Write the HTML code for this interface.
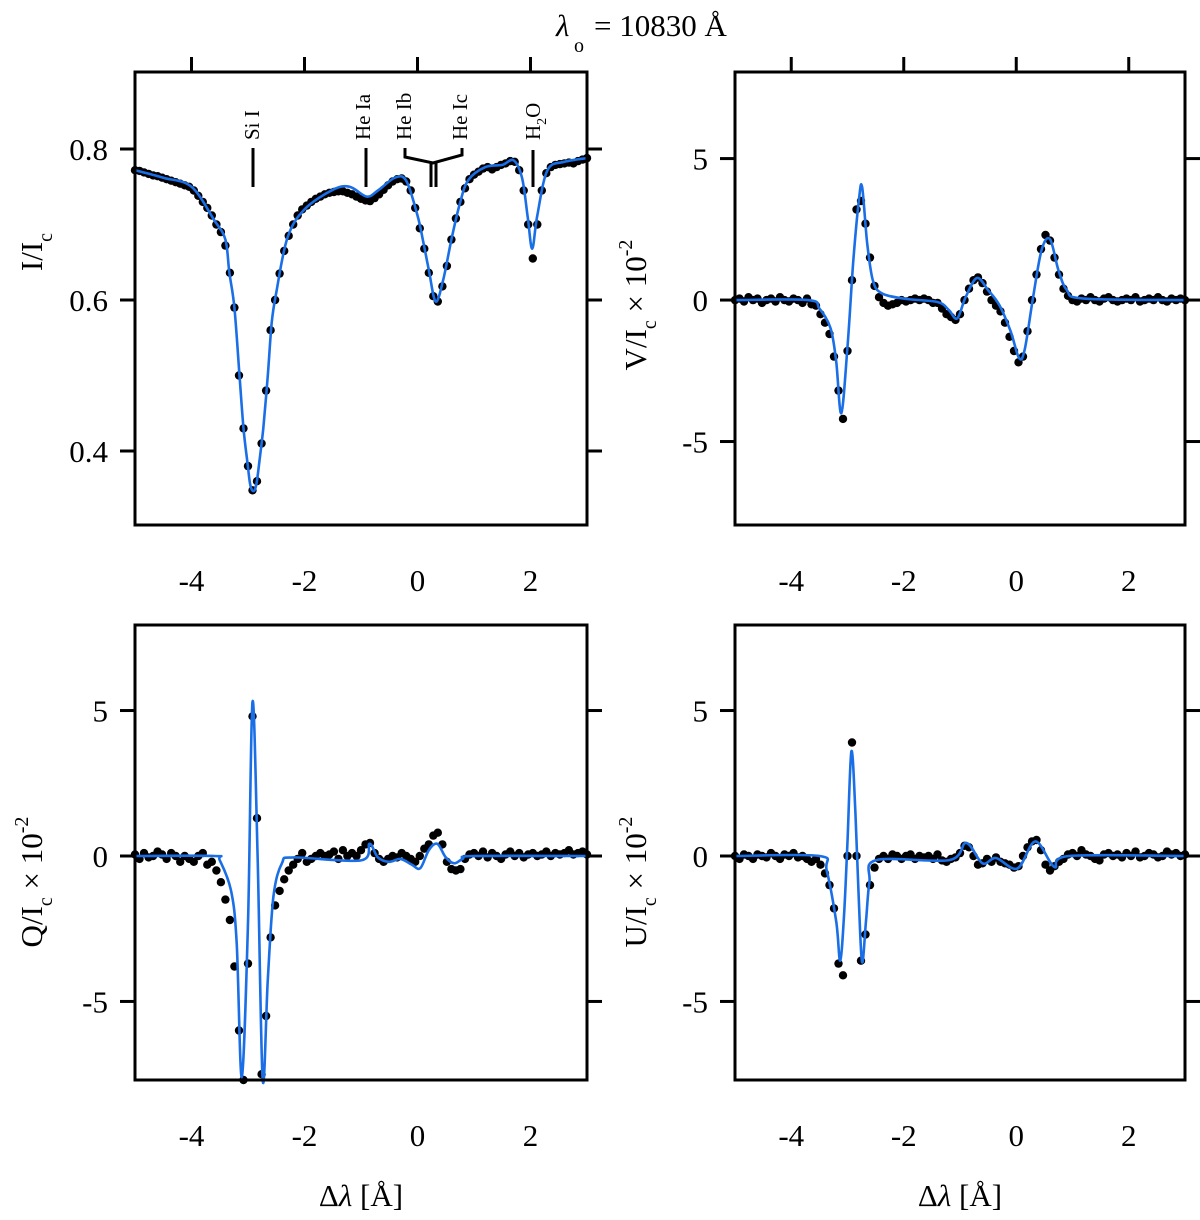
<!DOCTYPE html>
<html><head><meta charset="utf-8"><style>
html,body{margin:0;padding:0;background:#fff;}
svg{display:block;font-family:"Liberation Serif",serif;}
</style></head><body>
<svg id="fig" width="1200" height="1220" viewBox="0 0 1200 1220" xmlns="http://www.w3.org/2000/svg">
<text x="556" y="36" font-size="31" font-style="italic">λ</text>
<text x="574" y="52" font-size="20">o</text>
<text x="594" y="36" font-size="31">= 10830 Å</text>
</svg>
<script>
// ---- data ----
const obsStart = -5, obsStep = 0.08;
const xTicks = [-4,-2,0,2];
const xTickLabels = ["-4","-2","0","2"];
const iTicks = [0.8,0.6,0.4];
const iTickLabels = ["0.8","0.6","0.4"];
const pTicks = [5,0,-5];
const pTickLabels = ["5","0","-5"];

const iFitLam = [-5,-4.5,-4,-3.6,-3.4,-3.33,-3.24,-3.15,-3.08,-3.01,-2.96,-2.90,-2.85,-2.80,-2.73,-2.65,-2.58,-2.50,-2.3,-2.0,-1.5,-1.2,-0.9,-0.7,-0.4,-0.2,0,0.1,0.2,0.32,0.45,0.6,0.75,0.9,1.2,1.5,1.7,1.85,1.95,2.03,2.12,2.3,2.6,3];
const iFitVal = [.772,.762,.75,.706,.68,.636,.59,.50,.43,.385,.355,.347,.357,.385,.43,.50,.57,.61,.683,.72,.746,.75,.737,.745,.762,.758,.712,.678,.64,.598,.625,.68,.728,.759,.776,.779,.785,.762,.71,.668,.712,.772,.783,.788];
const iObs = [.772,.771,.769,.767,.765,.764,.762,.760,.758,.756,.754,.752,.750,.745,.738,.730,.722,.712,.700,.690,.672,.636,.59,.50,.43,.38,.348,.36,.41,.48,.56,.60,.635,.665,.685,.700,.712,.720,.725,.730,.734,.737,.740,.742,.743,.744,.744,.742,.740,.737,.734,.732,.731,.735,.740,.746,.752,.757,.760,.761,.757,.745,.722,.695,.668,.636,.605,.598,.618,.645,.680,.708,.730,.748,.760,.766,.770,.774,.776,.773,.776,.779,.781,.784,.783,.772,.745,.70,.655,.70,.745,.768,.776,.779,.780,.781,.782,.781,.784,.786,.788];

const vFitLam = [-5,-3.7,-3.5,-3.3,-3.2,-3.11,-3.0,-2.9,-2.8,-2.74,-2.65,-2.55,-2.4,-2.0,-1.4,-1.2,-1.05,-0.9,-0.7,-0.5,-0.3,-0.1,0.05,0.15,0.3,0.45,0.6,0.75,0.9,1.2,3];
const vFitVal = [0,0,-0.3,-1.0,-2.2,-4.0,-1.65,1.3,3.5,4.0,2.0,0.7,0.25,0.05,-0.07,-0.35,-0.65,0.1,0.78,0.35,-0.18,-1.1,-2.05,-1.75,0.1,1.77,2.15,1.06,0.35,0.05,0];
const vObs = [0.0,0.05,-0.05,0.1,0.0,0.05,-0.1,0.0,0.05,-0.05,0.1,0.0,-0.05,0.05,0.0,-0.1,0.05,-0.15,-0.2,-0.5,-0.8,-1.2,-2.0,-3.2,-4.2,-1.8,0.7,3.2,3.5,2.7,1.5,0.5,0.1,-0.1,-0.2,-0.15,-0.1,0.0,-0.05,0.0,0.05,0.0,0.05,0.0,-0.1,-0.1,-0.3,-0.5,-0.6,-0.7,-0.5,0.0,0.4,0.7,0.8,0.6,0.3,0.0,-0.2,-0.4,-0.8,-1.3,-1.8,-2.2,-2.0,-1.1,0.0,0.9,1.8,2.3,2.1,1.5,0.9,0.4,0.15,0.0,-0.05,0.05,0.0,0.1,0.0,-0.05,0.05,0.1,0.0,-0.05,0.0,0.05,0.0,0.1,-0.05,0.0,0.05,0.0,0.1,0.0,-0.05,0.05,0.0,0.05,0.0];

const qFitLam = [-5,-3.6,-3.5,-3.3,-3.2,-3.11,-3.0,-2.92,-2.83,-2.74,-2.65,-2.55,-2.4,-2.2,-1.0,-0.85,-0.7,-0.5,-0.3,-0.1,0.05,0.2,0.35,0.5,0.65,0.8,1.0,3];
const qFitVal = [0,0,-0.15,-1.2,-3.0,-7.6,-2.3,5.3,0,-7.7,-4.25,-1.4,-0.25,-0.05,-0.15,0.42,-0.05,-0.2,-0.1,-0.3,-0.42,0.2,0.42,-0.05,-0.25,-0.1,0,0];
const qObs = [0.05,-0.1,0.1,-0.05,0.0,0.15,0.05,-0.1,0.1,0.0,-0.2,0.0,-0.1,-0.2,0.0,0.1,-0.3,-0.2,-0.5,-0.9,-1.5,-2.2,-3.8,-6.0,-7.7,-3.7,4.8,1.3,-7.5,-5.5,-2.8,-1.7,-1.2,-0.8,-0.5,-0.3,-0.1,0.1,-0.2,-0.1,0.0,0.1,0.0,0.05,0.15,-0.1,0.2,0.0,0.1,0.0,0.2,0.4,0.45,0.1,-0.1,-0.2,-0.1,0.0,-0.05,0.1,0.0,-0.1,-0.2,0.0,0.25,0.4,0.7,0.8,0.4,-0.2,-0.45,-0.5,-0.45,-0.1,0.05,0.1,0.0,0.15,-0.05,0.1,0.0,-0.1,0.05,0.15,0.0,0.1,-0.05,0.05,0.1,0.0,0.05,0.15,0.0,0.1,0.05,0.1,0.2,0.05,0.1,0.15,0.05];

const uFitLam = [-5,-3.5,-3.37,-3.2,-3.13,-3.06,-3.0,-2.93,-2.86,-2.8,-2.74,-2.67,-2.61,-2.49,-1.19,-0.89,-0.6,-0.36,0.02,0.34,0.68,0.94,3];
const uFitVal = [0,0,-0.5,-2.27,-3.6,-2.0,0.5,3.6,1.5,-1.5,-3.65,-2.2,-0.9,-0.14,-0.14,0.45,-0.25,-0.07,-0.43,0.5,-0.38,0,0];
const uObs = [0.0,-0.1,0.05,0.0,-0.1,0.05,0.0,-0.05,0.1,0.0,-0.1,0.05,0.0,0.1,-0.05,0.0,-0.1,-0.2,-0.1,-0.3,-0.6,-1.0,-1.8,-3.7,-4.1,0.0,3.9,0.0,-3.6,-2.7,-1.0,-0.4,-0.1,0.0,-0.1,0.05,0.0,-0.1,0.0,0.05,-0.1,0.0,-0.05,0.0,-0.1,0.05,-0.15,-0.2,-0.1,-0.05,0.1,0.35,0.3,0.0,-0.3,-0.25,-0.1,-0.2,-0.05,-0.2,-0.25,-0.3,-0.4,-0.35,0.0,0.3,0.5,0.55,0.2,-0.3,-0.5,-0.35,-0.2,-0.1,0.05,0.1,0.0,0.2,0.05,0.0,-0.1,-0.15,0.05,0.1,0.0,0.05,-0.05,0.1,0.0,0.15,-0.05,0.0,0.1,0.05,-0.05,0.0,0.15,0.05,0.1,0.0,0.05];

// ---- drawing ----
const NS = "http://www.w3.org/2000/svg";
const svg = document.getElementById('fig');
function mk(tag, attrs, parent){const e=document.createElementNS(NS,tag);for(const k in attrs)e.setAttribute(k,attrs[k]);(parent||svg).appendChild(e);return e;}

function panel(o){
  const g = mk('g',{});
  
  
  const sx = v => o.x0 + (v - (-5)) / 8 * (o.x1 - o.x0);
  const sy = v => o.y1 - (v - o.ymin) / (o.ymax - o.ymin) * (o.y1 - o.y0);
  const dg = mk('g',{fill:'#000'},g);
  
  
  o.obs.forEach((v,k)=>{
    const c = mk('circle',{cx:sx(obsStart+obsStep*k).toFixed(1),cy:sy(v).toFixed(1),r:4.2},dg);
    
    
  });
  const P = o.fitLam.map((l,i)=>[sx(l),sy(o.fitVal[i])]);
  let d = 'M'+P[0][0].toFixed(1)+','+P[0][1].toFixed(1);
  for(let i=0;i<P.length-1;i++){
    const p0=P[Math.max(0,i-1)],p1=P[i],p2=P[i+1],p3=P[Math.min(P.length-1,i+2)];
    const c1=[p1[0]+(p2[0]-p0[0])/6,p1[1]+(p2[1]-p0[1])/6];
    const c2=[p2[0]-(p3[0]-p1[0])/6,p2[1]-(p3[1]-p1[1])/6];
    d+=' C'+c1[0].toFixed(1)+','+c1[1].toFixed(1)+' '+c2[0].toFixed(1)+','+c2[1].toFixed(1)+' '+p2[0].toFixed(1)+','+p2[1].toFixed(1);
  }
  const fit = mk('path',{d:d,fill:'none',stroke:'#1a6fe6','stroke-width':2.6,'stroke-linejoin':'round'},g);
  
  
  const fr = mk('rect',{x:o.x0,y:o.y0,width:o.x1-o.x0,height:o.y1-o.y0,fill:'none',stroke:'#000','stroke-width':3},g);
  
  
  o.yTicks.forEach((t,i)=>{
    const y=sy(t);
    const a=mk('line',{x1:o.x0-15,x2:o.x0,y1:y,y2:y,stroke:'#000','stroke-width':3},g);
    
    
    const b=mk('line',{x1:o.x1,x2:o.x1+15,y1:y,y2:y,stroke:'#000','stroke-width':3},g);
    
    
    const tx=mk('text',{x:o.x0-27,y:y+11,'font-size':31,'text-anchor':'end'},g);
    tx.textContent=o.yLabels[i];
    
    
  });
  xTicks.forEach((t,i)=>{
    const x=sx(t);
    if(o.topTicks){
      const a=mk('line',{x1:x,x2:x,y1:o.y0-15,y2:o.y0,stroke:'#000','stroke-width':3},g);
      
      
    }
    const tx=mk('text',{x:x,y:o.y1+66,'font-size':31,'text-anchor':'middle'},g);
    tx.textContent=xTickLabels[i];
    
    
  });
  return {sx,sy,g};
}

panel({name:'stokes-i-panel',x0:135,x1:587,y0:72,y1:525,ymin:0.302,ymax:0.902,yTicks:iTicks,yLabels:iTickLabels,topTicks:true,obs:iObs,fitLam:iFitLam,fitVal:iFitVal});
panel({name:'stokes-v-panel',x0:735,x1:1185,y0:72,y1:525,ymin:-7.95,ymax:8.06,yTicks:pTicks,yLabels:pTickLabels,topTicks:true,obs:vObs,fitLam:vFitLam,fitVal:vFitVal});
panel({name:'stokes-q-panel',x0:135,x1:587,y0:625,y1:1080,ymin:-7.70,ymax:7.94,yTicks:pTicks,yLabels:pTickLabels,topTicks:false,obs:qObs,fitLam:qFitLam,fitVal:qFitVal});
panel({name:'stokes-u-panel',x0:735,x1:1185,y0:625,y1:1080,ymin:-7.70,ymax:7.94,yTicks:pTicks,yLabels:pTickLabels,topTicks:false,obs:uObs,fitLam:uFitLam,fitVal:uFitVal});
</script>
<svg style="position:absolute;left:0;top:0" width="1200" height="1220" xmlns="http://www.w3.org/2000/svg" font-family="Liberation Serif, serif">
<g stroke="#000" stroke-width="3" fill="none">
<line x1="253" y1="148" x2="253" y2="187"/>
<line x1="366" y1="148" x2="366" y2="187"/>
<polyline points="405,148 405,157 433,163 462,155 462,148"/>
<line x1="431" y1="163" x2="431" y2="187"/>
<line x1="436" y1="163" x2="436" y2="187"/>
<line x1="533" y1="150" x2="533" y2="187"/>
</g>
<g font-size="21">
<text transform="translate(259,140) rotate(-90)">Si I</text>
<text transform="translate(370,140) rotate(-90)">He Ia</text>
<text transform="translate(411,140) rotate(-90)">He Ib</text>
<text transform="translate(467,140) rotate(-90)">He Ic</text>
<text transform="translate(540,140) rotate(-90)">H<tspan font-size="14" dy="6">2</tspan><tspan dy="-6">O</tspan></text>
</g>
<g font-size="31">
<text transform="translate(42,252) rotate(-90)" text-anchor="middle">I/I<tspan font-size="20" dy="10">c</tspan></text>
<text transform="translate(646,305) rotate(-90)" text-anchor="middle">V/I<tspan font-size="20" dy="10">c</tspan><tspan dy="-10"> × 10</tspan><tspan font-size="20" dy="-14">-2</tspan></text>
<text transform="translate(42,882) rotate(-90)" text-anchor="middle">Q/I<tspan font-size="20" dy="10">c</tspan><tspan dy="-10"> × 10</tspan><tspan font-size="20" dy="-14">-2</tspan></text>
<text transform="translate(646,882) rotate(-90)" text-anchor="middle">U/I<tspan font-size="20" dy="10">c</tspan><tspan dy="-10"> × 10</tspan><tspan font-size="20" dy="-14">-2</tspan></text>
<text x="361" y="1206" text-anchor="middle">Δ<tspan font-style="italic">λ</tspan> [Å]</text>
<text x="960" y="1206" text-anchor="middle">Δ<tspan font-style="italic">λ</tspan> [Å]</text>
</g>
</svg>
</body></html>
